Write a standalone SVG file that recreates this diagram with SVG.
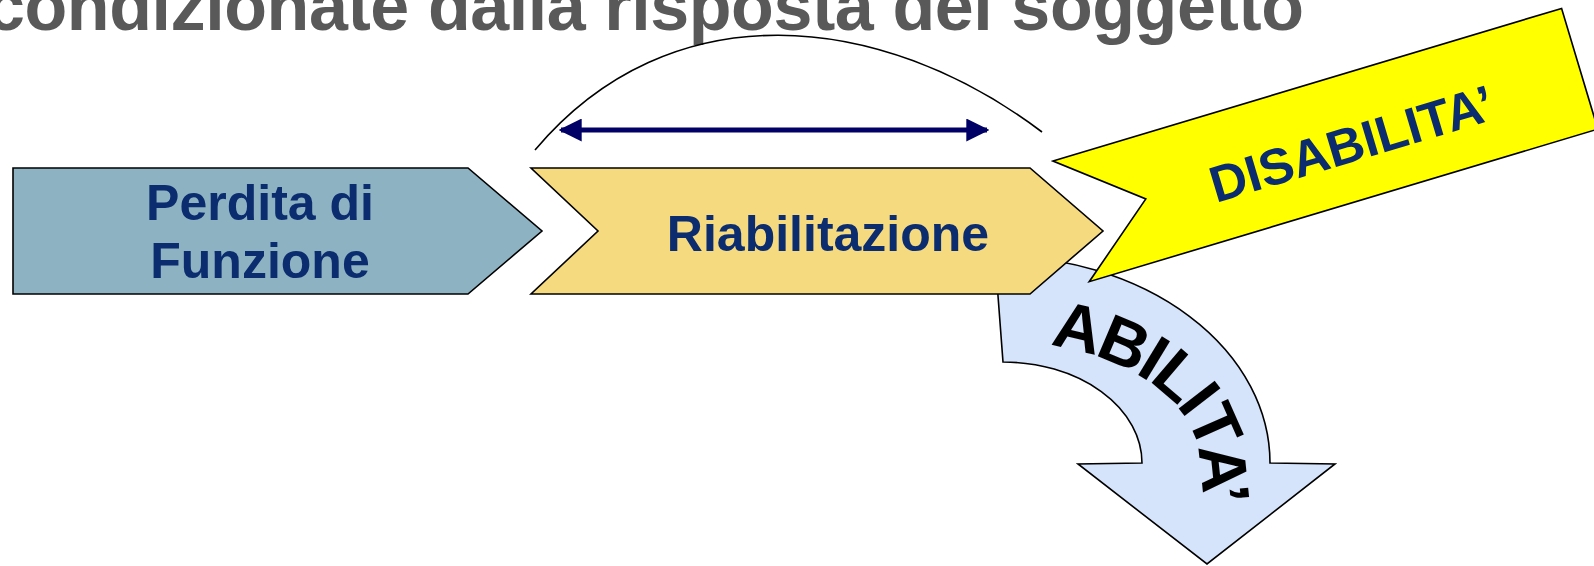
<svg xmlns="http://www.w3.org/2000/svg" width="1594" height="566" viewBox="0 0 1594 566">
  <style>
    .shape { stroke: #000; stroke-width: 1.6; stroke-linejoin: miter; }
    .label { font-family: "Liberation Sans", Arial, sans-serif; font-weight: bold; fill: #0B2C6E; text-anchor: middle; }
    .title { font-family: "Liberation Sans", Arial, sans-serif; font-weight: bold; fill: #595959; }
    .curved { font-family: "Liberation Sans", Arial, sans-serif; font-weight: bold; fill: #000; }
  </style>
  <defs>
    <marker id="head" viewBox="0 0 10 10" refX="9" refY="5" markerWidth="4.6" markerHeight="4.6" orient="auto-start-reverse" markerUnits="strokeWidth">
      <path d="M0,0 L10,5 L0,10 Z" fill="#000066"/>
    </marker>
    <path id="abilitaPath" d="M 1004,342 A 196 122 0 0 1 1200,464 L 1214,600"/>
  </defs>

  <rect width="1594" height="566" fill="#fff"/>

  <!-- heading, clipped by the top edge -->
  <text class="title" x="-14" y="30" font-size="70" textLength="1318" lengthAdjust="spacing">condizionate dalla risposta del soggetto</text>

  <!-- ABILITA' curved arrow (sits behind the other shapes) -->
  <g id="abilita">
    <path class="shape" fill="#D6E4FB" d="M 995,256 A 274 207 0 0 1 1270,463 L 1335,464 L 1207,564 L 1078,464 L 1142,463 A 139 101 0 0 0 1003,362 Z"/>
    <text class="curved" font-size="66" letter-spacing="-3"><textPath href="#abilitaPath" startOffset="46">ABILITA’</textPath></text>
  </g>

  <!-- Perdita di Funzione -->
  <g id="perdita">
    <polygon class="shape" fill="#8DB3C3" points="13,168 468,168 542,231 468,294 13,294"/>
    <text class="label" x="260" y="220" font-size="50">Perdita di</text>
    <text class="label" x="260" y="278" font-size="50">Funzione</text>
  </g>

  <!-- Riabilitazione -->
  <g id="riabilitazione">
    <polygon class="shape" fill="#F5DA80" points="531,168 1030,168 1103,231 1030,294 531,294 598,231"/>
    <text class="label" x="828" y="251" font-size="50">Riabilitazione</text>
  </g>

  <!-- DISABILITA' banner -->
  <g id="disabilita" transform="translate(1053,161) rotate(-16.7)">
    <polygon class="shape" fill="#FFFF00" points="0,0 531,0 531,126 0,126 78,63"/>
    <text class="label" x="291" y="87" font-size="51">DISABILITA’</text>
  </g>

  <!-- connectors -->
  <g id="connectors">
    <path d="M 535,150 C 670,-10 880,10 1042,132" fill="none" stroke="#000" stroke-width="1.6"/>
    <line x1="561" y1="130" x2="987" y2="130" stroke="#000066" stroke-width="5" marker-start="url(#head)" marker-end="url(#head)"/>
  </g>
</svg>
